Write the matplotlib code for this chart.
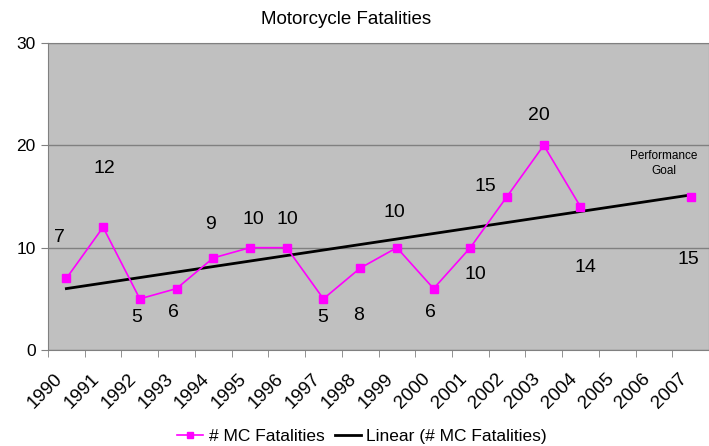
import numpy as np
import matplotlib.pyplot as plt
import matplotlib.transforms as mtransforms
from matplotlib.lines import Line2D

plt.rcParams['font.family'] = ['Liberation Sans', 'DejaVu Sans']

# --- data ---
years = [str(y) for y in range(1990, 2008)]
fatalities = [7, 12, 5, 6, 9, 10, 10, 5, 8, 10, 6, 10, 15, 20, 14, np.nan, np.nan, 15]
trend_start, trend_end = 6.0, 15.15   # linear trend, read at 1990 and 2007
# label offsets in pixels (dx, dy) relative to each point
label_offsets = [(-7, 41), (1, 59), (-3, -19), (-3, -24), (-3, 33), (3, 28), (1, 28),
                 (-1, -19), (-2, -47), (-2, 35), (-3, -24), (5, -27), (-22, 10),
                 (-5, 30), (5, -61), None, None, (-2, -63)]

x = np.arange(len(years))

fig = plt.figure(figsize=(7.09, 4.46), dpi=100)
ax = fig.add_axes([48/709, 96/446, 661/709, 307/446])
ax.set_facecolor('#C0C0C0')

ax.plot(x, fatalities, color='#FF00FF', lw=1.2, marker='s', ms=6,
        markerfacecolor='#FF00FF', markeredgecolor='#FF00FF', zorder=3)
ax.plot([x[0], x[-1]], [trend_start, trend_end], color='black', lw=2, zorder=2)

for xi, v, off in zip(x, fatalities, label_offsets):
    if off is None or np.isnan(v):
        continue
    ax.annotate(str(int(v)), (xi, v), xytext=off, textcoords='offset pixels',
                ha='center', va='center', fontsize=14)

ax.annotate('Performance\nGoal', (x[-1], fatalities[-1]), xytext=(-27, 33),
            textcoords='offset pixels', ha='center', va='center', fontsize=8.5,
            linespacing=1.3)

ax.set_xlim(-0.5, len(years) - 0.5)
ax.set_ylim(0, 30)
ax.set_yticks([0, 10, 20, 30])
ax.yaxis.grid(True, color='#808080', lw=1)
ax.set_axisbelow(True)

ax.set_xticks(x)
ax.set_xticklabels(years, rotation=45, ha='right', va='center', rotation_mode='anchor')
ax.set_xticks(np.arange(-0.5, len(years)), minor=True)
ax.tick_params(axis='x', which='major', length=0, pad=19, labelsize=13.5)
ax.tick_params(axis='x', which='minor', length=5, color='#808080')
ax.tick_params(axis='y', length=5, color='#808080', labelsize=12.5, pad=4)
shift = mtransforms.ScaledTranslation(-6/100, 0, fig.dpi_scale_trans)
for lab in ax.get_xticklabels():
    lab.set_transform(lab.get_transform() + shift)

for s in ax.spines.values():
    s.set_color('#808080')

fig.text(346/709, 1 - 20/446, 'Motorcycle Fatalities', ha='center', va='center', fontsize=13.5)

handles = [Line2D([], [], color='#FF00FF', lw=1.2, marker='s', ms=5),
           Line2D([], [], color='black', lw=2)]
fig.legend(handles, ['# MC Fatalities', 'Linear (# MC Fatalities)'],
           loc='center', bbox_to_anchor=(362/709, 1 - 436/446), ncol=2, frameon=False,
           fontsize=12.5, handlelength=1.5, handletextpad=0.3, columnspacing=0.6)

fig.savefig('out.png', dpi=100)
